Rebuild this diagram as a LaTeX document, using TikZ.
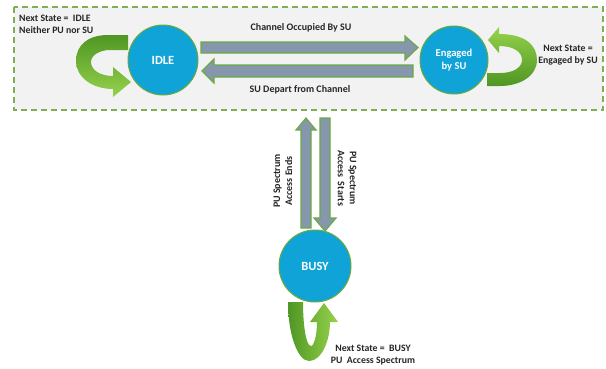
\documentclass[tikz,border=0pt]{standalone}
\usepackage{fontspec}
\setmainfont{Carlito}
\usetikzlibrary{calc}
\definecolor{boxgreen}{HTML}{7FAF55}
\definecolor{bgfill}{HTML}{F2F2F2}
\definecolor{circfill}{HTML}{10A3D8}
\definecolor{circedge}{HTML}{6AAA3C}
\definecolor{arrfill}{HTML}{8696AC}
\definecolor{arredge}{HTML}{6BAA45}
\definecolor{loopdark}{HTML}{4F9624}
\definecolor{looplight}{HTML}{96D24C}
\definecolor{txt}{HTML}{262626}
\begin{document}
\begin{tikzpicture}[x=1pt,y=-1pt,
  state/.style={circle, fill=circfill, draw=circedge, line width=1pt, minimum size=70pt, inner sep=0pt, text=white, align=center},
  fatarrow/.style={fill=arrfill, draw=arredge, line width=1.2pt, line join=miter},
  lbl/.style={font=\bfseries\fontsize{10}{12}\selectfont, text=txt, inner sep=0pt},
  cornerlbl/.style={font=\bfseries\fontsize{9.8}{12}\selectfont, text=txt, inner sep=0pt},
  ]
\useasboundingbox (0,0) rectangle (606,368);
\fill[white] (0,0) rectangle (606,368);
% dashed region
\draw[boxgreen, fill=bgfill, line width=1.4pt, dash pattern=on 6pt off 4pt] (14,7) rectangle (603,110);

% states
\node[state, font=\bfseries\fontsize{12.5}{13}\selectfont] (idle) at (163,60) {IDLE};
\node[state, minimum size=68pt, font=\bfseries\fontsize{10.5}{12.5}\selectfont] (eng) at (454,60) {Engaged\\by SU};
\node[state, minimum size=72pt, font=\bfseries\fontsize{12.5}{13}\selectfont] (busy) at (315,266) {BUSY};

% horizontal arrows
\coordinate (occE) at (418,47.5);
\filldraw[fatarrow] (201,42) -- (405,42) -- (405,36) -- (occE) -- (405,60) -- (405,53) -- (201,53) -- cycle;
\coordinate (depE) at (202,71);
\filldraw[fatarrow] (413,65) -- (214,65) -- (214,59) -- (depE) -- (214,83) -- (214,77) -- (413,77) -- cycle;

% vertical arrows
\filldraw[fatarrow] (301,228) -- (301,130) -- (296,130) -- (306,118) -- (316,130) -- (311,130) -- (311,228) -- cycle;
\filldraw[fatarrow] (320,118) -- (330,118) -- (330,218) -- (336,218) -- (325,231) -- (314,218) -- (320,218) -- cycle;

% self loops
\shade[top color=loopdark, bottom color=looplight]
  (128,35) -- (108,35) .. controls (88,35) and (76,45) .. (76,61)
  .. controls (76,77) and (92,89) .. (113,89) -- (113,97) -- (131,82) -- (113,67) -- (113,76)
  .. controls (100,76) and (91,70) .. (91,62) .. controls (91,55) and (100,50) .. (110,50) -- (128,50) -- cycle;
\shade[top color=looplight, bottom color=loopdark]
  (488,40) -- (499,27) -- (499,34) .. controls (525,34) and (537,45) .. (537,60)
  .. controls (537,76) and (520,86) .. (500,86) -- (487,86) -- (487,73) -- (500,73)
  .. controls (514,73) and (522,67) .. (522,60) .. controls (522,52) and (514,46) .. (499,46) -- (499,53) -- cycle;
\shade[left color=loopdark, right color=looplight]
  (288,302) .. controls (288,335) and (298,361) .. (309,361) .. controls (322,361) and (330,340) .. (330,322)
  -- (338,322) -- (324,303) -- (310,322) -- (317,322)
  .. controls (317,335) and (314,346) .. (311,346) .. controls (306,346) and (303,325) .. (303,302) -- cycle;

% labels
\node[lbl] (occL) at (301,28) {Channel Occupied By SU};
\node[lbl] (depL) at (300,90) {SU Depart from Channel};
\node[lbl, rotate=90, align=center] (endL) at (283,181) {PU Spectrum\\Access Ends};
\node[lbl, rotate=-90, align=center] (startL) at (347,178) {PU Spectrum\\Access\ \ Starts};
\node[cornerlbl, anchor=north west, align=left] (idleL) at (19,15) {Next State =\ \ IDLE\\Neither PU nor SU};
\node[cornerlbl, align=center] (engL) at (568,55) {Next State =\\Engaged by SU};
\node[cornerlbl, align=center] (busyL) at (373,355) {Next State =\ \ BUSY\\PU\ \ Access Spectrum};
\end{tikzpicture}
\end{document}
